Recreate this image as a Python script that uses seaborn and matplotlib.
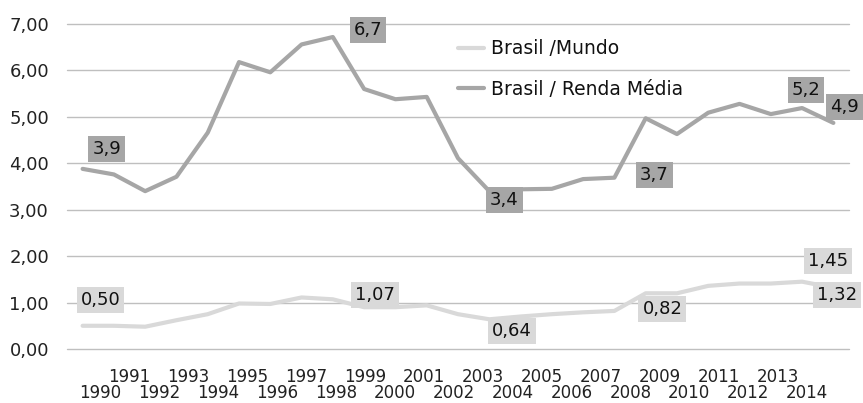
import matplotlib
matplotlib.use('Agg')

import matplotlib.pyplot as plt
import seaborn as sns
import pandas as pd

years = list(range(1990, 2015))

brasil_mundo = [0.50, 0.50, 0.48, 0.62, 0.75, 0.98, 0.97, 1.11, 1.07, 0.90,
                0.90, 0.94, 0.75, 0.64, 0.70, 0.75, 0.79, 0.82, 1.20, 1.20,
                1.36, 1.41, 1.41, 1.45, 1.32]

brasil_renda_media = [3.88, 3.76, 3.40, 3.71, 4.66, 6.18, 5.96, 6.56, 6.72, 5.60,
                      5.38, 5.43, 4.11, 3.40, 3.44, 3.45, 3.66, 3.69, 4.97, 4.63,
                      5.09, 5.28, 5.06, 5.19, 4.87]

series_names = ["Brasil /Mundo", "Brasil / Renda Média"]
labeled_years = [1990, 1998, 2003, 2007, 2013, 2014]

y_ticks = [0, 1, 2, 3, 4, 5, 6, 7]

# cores e deslocamento dos rótulos (pixels)
LIGHT = "#d9d9d9"
DARK = "#a6a6a6"
label_offsets = {
    "Brasil /Mundo": [(18, 26), (42, 4), (23, -12), (48, 2), (26, 21), (4, -7)],
    "Brasil / Renda Média": [(24, 20), (35, 7), (15, -9), (40, 3), (4, 18), (11, 16)],
}

df = pd.DataFrame({
    "ano": years * 2,
    "valor": brasil_mundo + brasil_renda_media,
    "serie": [series_names[0]] * len(years) + [series_names[1]] * len(years),
})

sns.set_theme(style="white")
plt.rcParams['font.family'] = ['DejaVu Sans']

fig = plt.figure(figsize=(8.63, 4.03), dpi=100)
ax = fig.add_axes([0.0776, 0.134, 0.9062, 0.8064])

sns.lineplot(data=df, x="ano", y="valor", hue="serie", hue_order=series_names,
             palette=[LIGHT, DARK], linewidth=3, ax=ax, legend=True)
for line in ax.lines:
    line.set_solid_capstyle('round')
    line.set_solid_joinstyle('round')

ax.set_xlim(years[0] - 0.5, years[-1] + 0.5)
ax.set_ylim(0, 7)
ax.set_yticks(y_ticks)
ax.set_yticklabels([f"{v:.2f}".replace(".", ",") for v in y_ticks], fontsize=13, color="#222222")
ax.yaxis.grid(True, color="#bfbfbf", linewidth=1)
for gl in ax.get_ygridlines():
    gl.set_clip_on(False)
ax.set_axisbelow(True)
for s in ax.spines.values():
    s.set_visible(False)
ax.tick_params(axis='y', length=0, pad=13)

# rótulos dos anos em duas fileiras (pares embaixo, ímpares em cima),
# um pouco comprimidos como no Excel
n = len(years)
tick_pos = [years[0] + 0.56 + 0.9416 * i for i in range(n)]
even = [i for i in range(n) if i % 2 == 0]
odd = [i for i in range(n) if i % 2 == 1]
ax.set_xticks([tick_pos[i] for i in even])
ax.set_xticklabels([str(years[i]) for i in even], fontsize=12, color="#222222")
ax.set_xticks([tick_pos[i] for i in odd], minor=True)
ax.set_xticklabels([str(years[i]) for i in odd], minor=True, fontsize=12, color="#222222")
ax.tick_params(axis='x', which='major', length=0, pad=25.5)
ax.tick_params(axis='x', which='minor', length=0, pad=14)
ax.set_xlabel("")
ax.set_ylabel("")

# rótulos de dados
for name, vals, color, fmt in [(series_names[0], brasil_mundo, LIGHT, "{:.2f}"),
                               (series_names[1], brasil_renda_media, DARK, "{:.1f}")]:
    for yr, off in zip(labeled_years, label_offsets[name]):
        v = vals[years.index(yr)]
        ax.annotate(fmt.format(v).replace(".", ","), (yr, v), xytext=off,
                    textcoords='offset pixels', ha='center', va='center',
                    fontsize=13, color="#111111", annotation_clip=False,
                    bbox=dict(boxstyle='square,pad=0.22', fc=color, ec='none'))

leg = ax.legend(loc='upper left', bbox_to_anchor=(0.50, 0.953), frameon=False,
                fontsize=13.5, handlelength=1.4, handletextpad=0.35,
                labelspacing=1.15, borderpad=0, borderaxespad=0)
for t in leg.get_texts():
    t.set_color("#111111")

fig.savefig("out.png", dpi=100)
